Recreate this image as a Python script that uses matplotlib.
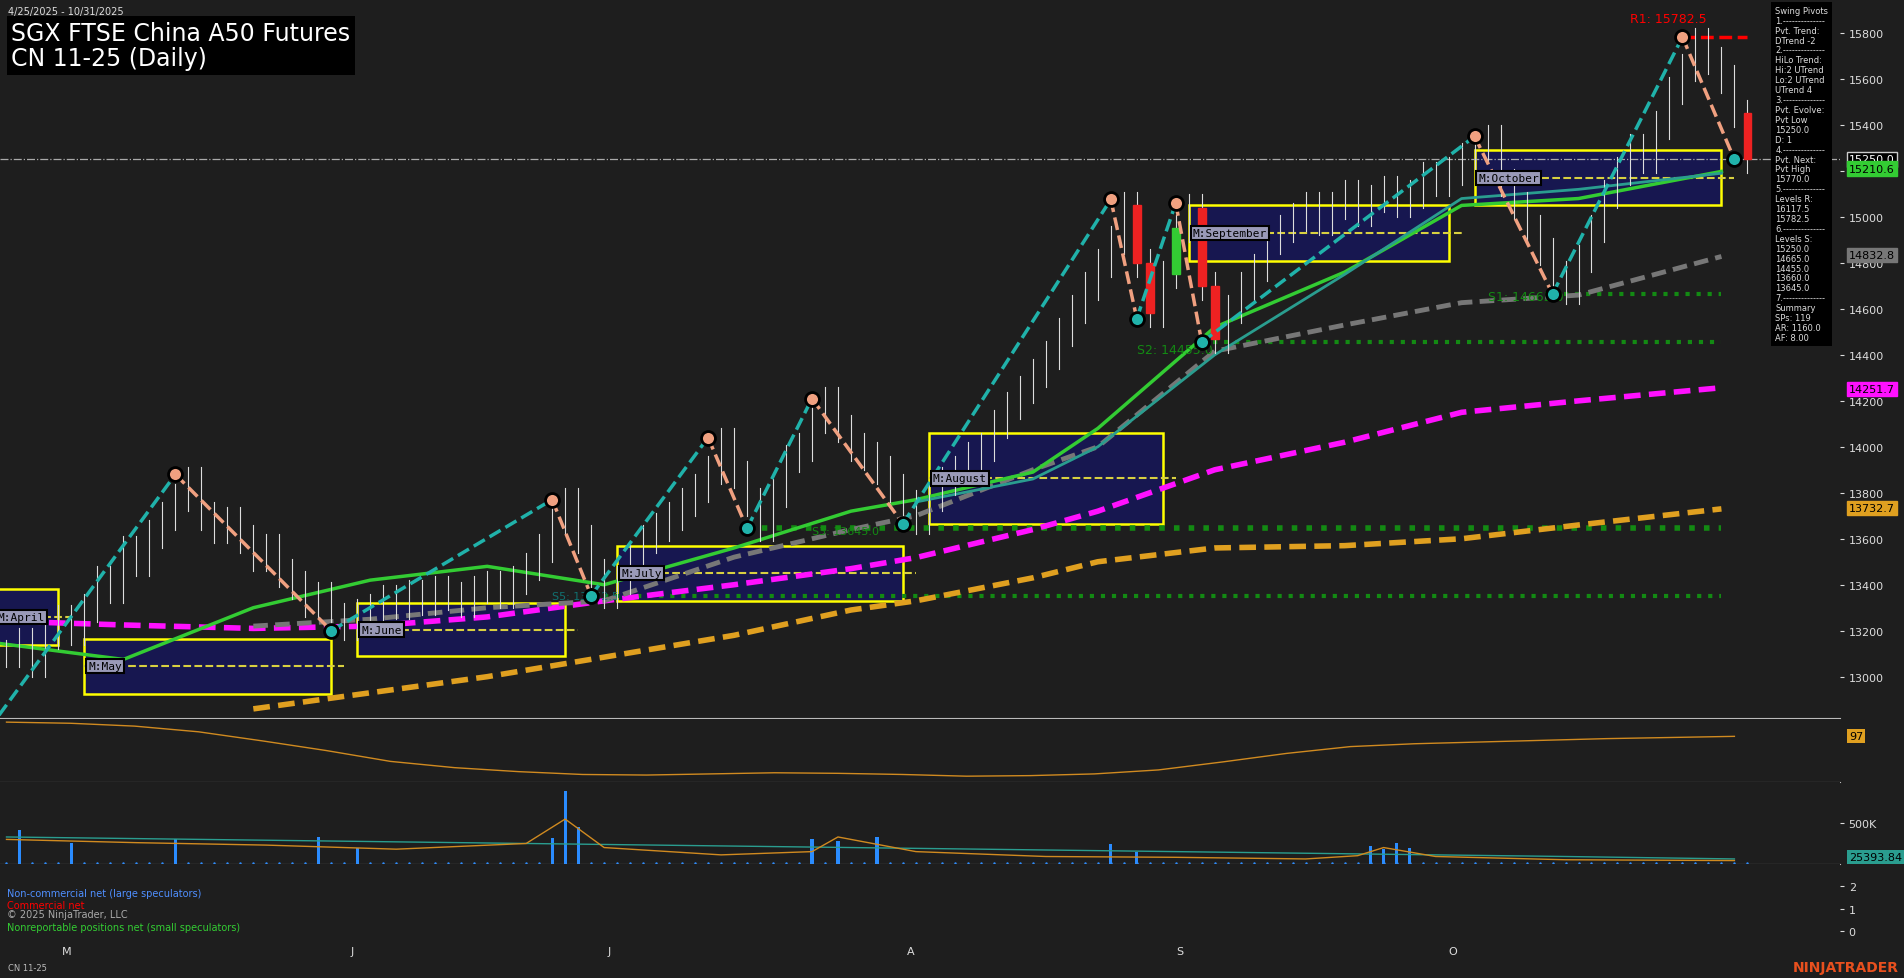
import matplotlib.pyplot as plt
import numpy as np

W, H = 1568, 806  # layout reference in display pixels

closes = [13100,13150,13060,13180,13250,13200,13300,13420,13380,13550,13500,13620,13700,13780,13850,
          13700,13640,13680,13600,13520,13560,13450,13400,13320,13350,13260,13220,
          13280,13300,13340,13310,13360,13330,13380,13350,13320,13380,13400,13360,13420,13480,13560,13680,13760,
          13600,13450,13360,
          13420,13520,13600,13650,13700,13760,13820,13900,14020,
          13880,13760,13650,
          13800,13950,14000,14120,14200,
          14080,14000,13960,13900,13820,13750,13680,
          13780,13850,13900,13960,14000,14100,14180,14250,14320,14400,14500,14600,14700,14800,14900,15050,
          14800,14580,
          14750,14950,15040,
          14700,14470,
          14600,14700,14780,14900,14950,15000,15050,14980,15050,15100,15020,15080,15120,15060,15100,15180,15150,15200,15260,15300,15340,
          15150,15050,14950,14850,14750,14680,
          14820,14950,15100,15200,15300,15250,15400,15550,15650,15760,
          15680,15600,15450,15250]

piv_idx = [-1, 13, 25, 42, 45, 54, 57, 62, 69, 85, 87, 90, 92, 113, 119, 129, 133]
piv_val = [12800, 13880, 13200, 13770, 13352.5, 14040, 13645, 14210, 13665, 15076, 14558, 15060, 14455, 15350, 14665, 15782.5, 15250]

# moving averages sampled at bar indices
ma_x = [-1, 9, 19, 28, 37, 46, 56, 65, 70, 79, 84, 93, 103, 112, 121, 132]
green_ma = [13148, 13075, 13300, 13420, 13480, 13400, 13560, 13720, 13770, 13890, 14080, 14520, 14760, 15050, 15080, 15198]
gray_ma = [np.nan, np.nan, 13220, 13250, 13300, 13330, 13520, 13640, 13700, 13900, 14000, 14416, 14530, 14627, 14660, 14828]
magenta_ma = [13243, 13225, 13210, 13220, 13260, 13330, 13400, 13470, 13518, 13640, 13720, 13900, 14020, 14150, 14200, 14257]
orange_ma = [np.nan, np.nan, 12860, 12930, 13000, 13085, 13180, 13290, 13330, 13430, 13500, 13560, 13570, 13600, 13660, 13730]
teal_ma = [np.nan]*8 + [13760, 13860, 14000, 14400, 14750, 15080, 15120, 15190]

boxes = [(-1, 4, 13140, 13380, 'M:April'), (6, 25, 12926, 13164, 'M:May'), (27, 43, 13090, 13320, 'M:June'),
         (47, 69, 13330, 13570, 'M:July'), (71, 89, 13665, 14060, 'M:August'), (91, 111, 14810, 15050, 'M:September'),
         (113, 132, 15050, 15290, 'M:October')]

osc = [99.5, 99.3, 98.8, 97.8, 96.2, 94.5, 92.6, 91.5, 90.8, 90.3, 90.2, 90.4, 90.6, 90.5, 90.3, 90.0, 90.1, 90.4,
       91.1, 92.5, 94.0, 95.2, 95.7, 96.0, 96.3, 96.6, 96.8, 97.0]
vol_idx = [1, 5, 13, 24, 27, 42, 43, 44, 62, 64, 67, 85, 87, 105, 106, 107, 108]
vol_val = [420, 250, 300, 330, 200, 320, 900, 450, 300, 280, 330, 240, 150, 220, 180, 260, 200]
vol_ma_x = [0, 10, 20, 30, 40, 43, 46, 55, 62, 64, 70, 80, 90, 100, 104, 106, 110, 120, 133]
vol_ma = [300, 260, 230, 180, 250, 550, 200, 110, 150, 330, 150, 90, 80, 60, 100, 200, 90, 50, 40]
vol_base_x = [0, 40, 80, 120, 133]
vol_base = [330, 250, 170, 90, 60]

months = ['M', 'J', 'J', 'A', 'S', 'O']
month_idx = [4.6, 26.6, 46.4, 69.6, 90.3, 111.3]

BG = '#1e1e1e'
fig = plt.figure(figsize=(19.04, 9.79), dpi=100, facecolor=BG)

def pane(top, bot):
    ax = fig.add_axes([0, 1 - bot / H, 1515 / W, (bot - top) / H], facecolor=BG)
    ax.set_xlim(-0.5, 141.1)
    ax.tick_params(colors='#dddddd', labelsize=8, direction='out', length=3)
    for s in ax.spines.values():
        s.set_visible(False)
    ax.spines['bottom'].set_visible(True)
    ax.spines['bottom'].set_color('#bbbbbb')
    ax.set_xticks([])
    ax.yaxis.tick_right()
    return ax

ax = pane(0, 592)
ax.set_ylim(12820, 15948)
ax.set_yticks(np.arange(13000, 15801, 200))

# boxes
for a, b, lo, hi, lab in boxes:
    ax.add_patch(plt.Rectangle((a, lo), b - a, hi - lo, facecolor='#171750', edgecolor='yellow', lw=1.8, zorder=1))
    ax.plot([a, b + 1], [(lo + hi) / 2] * 2, color='#d8d040', ls='--', lw=1.5, zorder=2)
    ax.text(a + 0.3, (lo + hi) / 2, lab, fontsize=8, color='black', family='DejaVu Sans Mono', va='center',
            bbox=dict(facecolor='#9a9ab8', edgecolor='black', lw=1.5, pad=1.5), zorder=6)

# levels
ax.plot([46, 132], [13352.5] * 2, color='#138a13', ls=':', lw=3)
ax.plot([57, 132], [13645] * 2, color='#138a13', ls=':', lw=4)
ax.plot([92, 132], [14455] * 2, color='#138a13', ls=':', lw=3)
ax.plot([119, 132], [14665] * 2, color='#138a13', ls=':', lw=3)
ax.axhline(15250, color='#aaaaaa', ls='-.', lw=0.9)
ax.plot([129, 134], [15782.5] * 2, color='red', ls='--', lw=2.5)
ax.text(62, 13620, 'S3: 13645.0', color='#138a13', fontsize=8)
ax.text(42, 13340, 'S5: 13352.5', color='#117070', fontsize=8)
ax.text(87, 14410, 'S2: 14455.0', color='#138a13', fontsize=9)
ax.text(114, 14640, 'S1: 14665.0', color='#138a13', fontsize=9)
ax.text(125, 15850, 'R1: 15782.5', color='red', fontsize=9)

# moving averages
ax.plot(ma_x, orange_ma, color='#e0a020', ls='--', lw=4, dashes=(3, 1.5))
ax.plot(ma_x, magenta_ma, color='#ff10ff', ls='--', lw=4, dashes=(3, 1.5))
ax.plot(ma_x, gray_ma, color='#777777', ls='--', lw=3.5, dashes=(3, 1.5))
ax.plot(ma_x, green_ma, color='#33cc33', lw=2.5)
ax.plot(ma_x, teal_ma, color='#2a9d8f', lw=2)

# candles
opens = [closes[0]] + closes[:-1]
for i, (o, c) in enumerate(zip(opens, closes)):
    ax.plot([i, i], [min(o, c) - 60, max(o, c) + 60], color='#dddddd', lw=0.8, zorder=3)
    if abs(c - o) > 190:
        ax.add_patch(plt.Rectangle((i - 0.3, min(o, c)), 0.6, abs(c - o),
                                   color='#33cc33' if c > o else '#ee2222', zorder=4))

# swing lines
for k in range(len(piv_idx) - 1):
    up = piv_val[k + 1] > piv_val[k]
    ax.plot(piv_idx[k:k + 2], piv_val[k:k + 2], color='#20b2aa' if up else '#f0a080',
            ls='--', lw=2.5, zorder=5)
for k in range(1, len(piv_idx)):
    hi = piv_val[k] > piv_val[k - 1]
    ax.plot(piv_idx[k], piv_val[k], 'o', ms=10, mfc='#f0a080' if hi else '#20b2aa', mec='black', mew=2, zorder=7)

# right labels
for y, txt, fc, tc in [(15250, '15250.0', 'black', 'white'), (15210.6, '15210.6', '#33cc33', 'black'),
                       (14832.8, '14832.8', '#777777', 'black'), (14251.7, '14251.7', '#ff10ff', 'black'),
                       (13732.7, '13732.7', '#e0a020', 'black')]:
    ax.text(1.005, y, txt, transform=ax.get_yaxis_transform(), fontsize=8, color=tc, va='center',
            bbox=dict(facecolor=fc, edgecolor='#cccccc' if fc == 'black' else fc, pad=1.5), clip_on=False, zorder=8)

# title
fig.text(0.004, 0.993, '4/25/2025 - 10/31/2025', color='#dddddd', fontsize=7, va='top')
fig.text(0.006, 0.978, 'SGX FTSE China A50 Futures\nCN 11-25 (Daily)', color='white', fontsize=17, va='top',
         linespacing=1.1, bbox=dict(facecolor='black', edgecolor='none', pad=3))
info = ('Swing Pivots\n1.--------------\nPvt. Trend:\nDTrend -2\n2.--------------\nHiLo Trend:\nHi:2 UTrend\n'
        'Lo:2 UTrend\nUTrend 4\n3.--------------\nPvt. Evolve:\nPvt Low\n15250.0\nD: 1\n4.--------------\n'
        'Pvt. Next:\nPvt High\n15770.0\n5.--------------\nLevels R:\n16117.5\n15782.5\n6.--------------\n'
        'Levels S:\n15250.0\n14665.0\n14455.0\n13660.0\n13645.0\n7.--------------\nSummary\nSPs: 119\n'
        'AR: 1160.0\nAF: 8.00')
fig.text(1462 / W, 0.993, info, color='#dddddd', fontsize=6, va='top', linespacing=1.13,
         bbox=dict(facecolor='black', edgecolor='none', pad=3))

# oscillator
ax2 = pane(593, 645)
ax2.set_ylim(88.9, 100)
ax2.set_yticks([])
ax2.plot(np.linspace(0, 133, len(osc)), osc, color='#d08a20', lw=1)
ax2.text(1.005, 97, '97', transform=ax2.get_yaxis_transform(), fontsize=8, va='center',
         bbox=dict(facecolor='#e0a020', edgecolor='none', pad=1.5))

# volume
ax3 = pane(645, 712)
ax3.set_ylim(0, 1000)
ax3.set_yticks([500])
ax3.set_yticklabels(['500K'])
ax3.bar(vol_idx, vol_val, width=0.25, color='#2a8cff')
ax3.plot(range(len(closes)), [15] * len(closes), ls='none', marker='.', ms=1.5, color='#2a8cff')
ax3.plot(vol_base_x, vol_base, color='#2a9d8f', lw=1)
ax3.plot(vol_ma_x, vol_ma, color='#d08a20', lw=1)
ax3.text(1.005, 80, '25393.84', transform=ax3.get_yaxis_transform(), fontsize=8, va='center',
         bbox=dict(facecolor='#2a9d8f', edgecolor='none', pad=1.5))

# COT
ax4 = pane(712, 775)
ax4.set_ylim(-0.4, 3)
ax4.set_yticks([0, 1, 2])
ax4.spines['bottom'].set_visible(False)
ax4.text(0.004, 0.58, 'Non-commercial net (large speculators)', transform=ax4.transAxes, color='#4f8fff', fontsize=7)
ax4.text(0.004, 0.42, 'Commercial net', transform=ax4.transAxes, color='red', fontsize=7)
ax4.text(0.004, 0.30, '© 2025 NinjaTrader, LLC', transform=ax4.transAxes, color='#aaaaaa', fontsize=7)
ax4.text(0.004, 0.14, 'Nonreportable positions net (small speculators)', transform=ax4.transAxes, color='#33cc33', fontsize=7)

for m, i in zip(months, month_idx):
    fig.text((i + 0.5) * 10.7 / W, 1 - 784 / H, m, color='#dddddd', fontsize=8, ha='center', va='center')
fig.text(0.004, 1 - 797 / H, 'CN 11-25', color='#bbbbbb', fontsize=6, va='center')
fig.text(0.997, 1 - 797 / H, 'NINJATRADER', color='#e8501e', fontsize=10, weight='bold', ha='right', va='center')

fig.savefig('out.png', dpi=100, facecolor=BG)
